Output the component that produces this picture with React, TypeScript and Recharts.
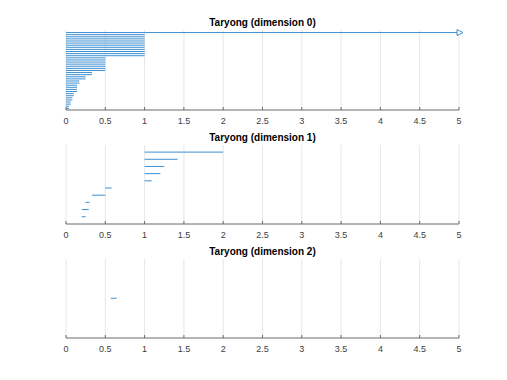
import { Bar, BarChart, CartesianGrid, XAxis, YAxis } from "recharts";

// Tick labels shared by the three barcode panels.
const xTicks = [0, 0.5, 1, 1.5, 2, 2.5, 3, 3.5, 4, 4.5, 5];
const X_MAX = 5;

// Dimension 0: every interval is born at 0; the first one never dies.
const dim0Births = [
  0, 0, 0, 0, 0, 0, 0, 0, 0, 0, 0, 0, 0, 0, 0, 0, 0, 0, 0, 0, 0, 0, 0, 0, 0, 0, 0,
  0, 0, 0, 0, 0, 0, 0, 0, 0, 0,
];
const dim0Deaths = [
  Infinity, 1, 1, 1, 1, 1, 1, 1, 1, 1, 1, 1, 0.5, 0.5, 0.5, 0.5, 0.5, 0.5, 0.5,
  0.33, 0.33, 0.25, 0.25, 0.17, 0.17, 0.14, 0.14, 0.14, 0.14, 0.1, 0.1, 0.08,
  0.08, 0.06, 0.06, 0.04, 0.04,
];

// Dimension 1.
const dim1Births = [1, 1, 1, 1, 1, 0.5, 0.33, 0.25, 0.2, 0.2];
const dim1Deaths = [2, 1.42, 1.25, 1.2, 1.09, 0.58, 0.5, 0.3, 0.29, 0.25];

// Dimension 2.
const dim2Births = [0.57];
const dim2Deaths = [0.645];

const BLUE = "#3d8fd1";
const AXIS = "#6b6b6b";
const FONT = '"Liberation Sans", Arial, Helvetica, sans-serif';

type Linha = { id: number; range: [number, number]; inf: boolean };

function montarLinhas(births: number[], deaths: number[]): Linha[] {
  return births.map((b, i) => ({
    id: i,
    range: [b, Math.min(deaths[i], X_MAX)],
    inf: deaths[i] === Infinity,
  }));
}

/** Bar of the barcode; infinite intervals get an open arrow head at the right. */
function Barra(props: any) {
  const { x, y, width, height, payload } = props;
  const inf = payload?.inf ?? props.inf;
  const xe = x + width;
  const yc = y + height / 2;
  return (
    <g>
      <rect x={x} y={y} width={Math.max(width, 0)} height={height} fill={BLUE} />
      {inf && (
        <polygon
          points={`${xe - 2},${yc - 3} ${xe + 4},${yc} ${xe - 2},${yc + 3}`}
          fill="#fff"
          stroke={BLUE}
          strokeWidth={1}
        />
      )}
    </g>
  );
}

/** MATLAB-style tick: short mark pointing into the axes + label below. */
function Tick(props: any) {
  const { x, y, payload } = props;
  const yAxis = y - 4;
  return (
    <g>
      <line x1={x} x2={x} y1={yAxis} y2={yAxis - 3} stroke={AXIS} />
      <text
        x={x}
        y={yAxis + 11}
        textAnchor="middle"
        dominantBaseline="central"
        fontSize={9}
        fontFamily={FONT}
        fill="#404040"
      >
        {payload.value}
      </text>
    </g>
  );
}

function Painel({
  titulo,
  linhas,
  topo,
  altura,
}: {
  titulo: string;
  linhas: Linha[];
  topo: number;
  altura: number;
}) {
  const margemTopo = 30;
  const alturaEixo = 20;
  const alturaPlot = altura - margemTopo - alturaEixo;
  const pad = alturaPlot / (2 * (linhas.length + 1));
  return (
    <div style={{ position: "absolute", left: 0, top: topo, width: 507, height: altura }}>
      <div
        style={{
          position: "absolute",
          left: 66,
          width: 393,
          top: margemTopo - 14,
          height: 14,
          lineHeight: "14px",
          textAlign: "center",
          fontFamily: FONT,
          fontWeight: "bold",
          fontSize: 10,
          color: "#000",
        }}
      >
        {titulo}
      </div>
      <BarChart
        width={507}
        height={altura}
        data={linhas}
        layout="vertical"
        margin={{ top: margemTopo, right: 48, bottom: 0, left: 66 }}
      >
        <CartesianGrid horizontal={false} stroke="#e6e6e6" />
        <XAxis
          type="number"
          domain={[0, X_MAX]}
          ticks={xTicks}
          interval={0}
          height={alturaEixo}
          tickLine={false}
          tickSize={0}
          tickMargin={4}
          tick={<Tick />}
          axisLine={{ stroke: AXIS }}
        />
        <YAxis
          type="category"
          dataKey="id"
          width={0}
          tick={false}
          tickLine={false}
          axisLine={{ stroke: AXIS }}
          padding={{ top: pad, bottom: pad }}
        />
        <Bar dataKey="range" barSize={1} shape={<Barra />} isAnimationActive={false} />
      </BarChart>
    </div>
  );
}

export default function App() {
  return (
    <div
      style={{
        position: "absolute",
        left: 0,
        top: 0,
        width: 507,
        height: 380,
        background: "#fff",
        overflow: "hidden",
      }}
    >
      <Painel titulo="Taryong (dimension 0)" linhas={montarLinhas(dim0Births, dim0Deaths)} topo={0} altura={130} />
      <Painel titulo="Taryong (dimension 1)" linhas={montarLinhas(dim1Births, dim1Deaths)} topo={115} altura={129} />
      <Painel titulo="Taryong (dimension 2)" linhas={montarLinhas(dim2Births, dim2Deaths)} topo={229} altura={129} />
    </div>
  );
}
